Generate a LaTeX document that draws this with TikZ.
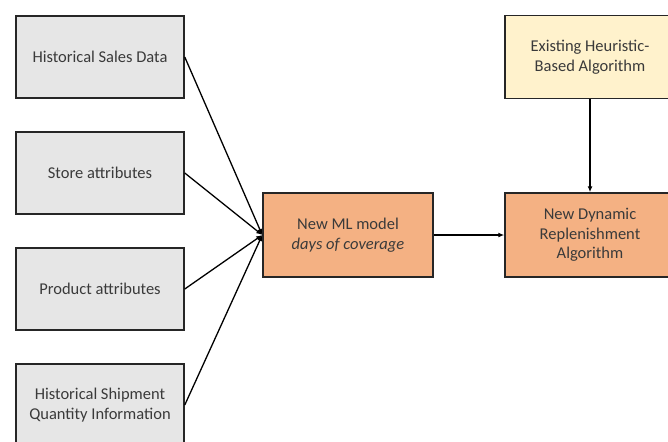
\documentclass[tikz,border=0pt]{standalone}
\usepackage{fontspec}
\setmainfont{Carlito}
\usepackage{xcolor}
\usetikzlibrary{positioning, arrows.meta}

\definecolor{boxgray}{HTML}{E6E6E6}
\definecolor{boxorange}{HTML}{F4B183}
\definecolor{boxyellow}{HTML}{FFF2CC}
\definecolor{txtgray}{HTML}{3A3A3A}

\begin{document}
\begin{tikzpicture}[x=1pt, y=-1pt,
    block/.style={rectangle, draw=black!85, line width=1.5pt, fill=#1, minimum height=82pt,
                  minimum width=168pt, font=\fontsize{16.5}{19.5}\selectfont, text=txtgray,
                  align=center, inner sep=2pt},
    block/.default={boxgray},
    arr/.style={-{Latex[length=6pt, width=5pt]}, line width=1.3pt},
  ]
    \useasboundingbox (0,0) rectangle (668,441);
    \clip (0,0) rectangle (668,441);

    % Inputs
    \node[block] (sales) at (100,57) {Historical Sales Data};
    \node[block] (store) at (100,173) {Store attributes};
    \node[block] (product) at (100,289) {Product attributes};
    \node[block] (ship) at (100,405) {Historical Shipment\\Quantity Information};

    % ML model
    \node[block=boxorange, minimum width=170pt, minimum height=84pt] (ml) at (348,235)
      {New ML model\\\textit{days of coverage}};

    % Heuristic and new algorithm
    \node[block=boxyellow, minimum width=170pt, minimum height=83pt] (heur) at (590,57)
      {Existing Heuristic-\\Based Algorithm};
    \node[block=boxorange, minimum width=170pt, minimum height=84pt] (dyn) at (590,235)
      {New Dynamic\\Replenishment\\Algorithm};

    % Arrows
    \draw[arr] (sales.east) -- (ml.west);
    \draw[arr] (store.east) -- (ml.west);
    \draw[arr] (product.east) -- (ml.west);
    \draw[arr] (ship.east) -- (ml.west);
    \draw[arr] (ml) -- (dyn);
    \draw[arr] (heur) -- (dyn);

  \end{tikzpicture}
\end{document}
